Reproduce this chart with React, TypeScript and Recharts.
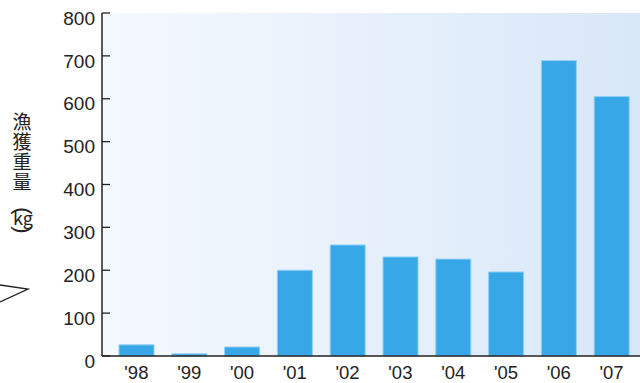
import { BarChart, Bar, XAxis, YAxis, CartesianGrid } from "recharts";

const years = ["'98", "'99", "'00", "'01", "'02", "'03", "'04", "'05", "'06", "'07"];
const catchKg = [26, 5, 21, 200, 259, 231, 226, 196, 689, 605];
const yTicks = [0, 100, 200, 300, 400, 500, 600, 700, 800];
const titleChars = ["漁", "獲", "重", "量"];

const data = years.map((year, i) => ({ year, kg: catchKg[i] }));

const AXIS_X = 102;
const INK = "#222";
const FONT = "'Liberation Sans', Arial, sans-serif";
const JP_FONT = "'Noto Sans CJK JP', sans-serif";

// y ticks point into the plot, labels sit a little below the tick
function YTick(props: any) {
  const { x, y, payload } = props;
  return (
    <g>
      <line x1={AXIS_X} x2={AXIS_X + 8} y1={y} y2={y} stroke={INK} strokeWidth={1.3} />
      <text
        x={x}
        y={y + 5}
        dy="0.355em"
        textAnchor="end"
        fill={INK}
        fontSize={19}
        fontFamily={FONT}
      >
        {payload.value}
      </text>
    </g>
  );
}

// vertical axis title: one glyph per row, parens turned sideways around "kg"
function AxisTitle() {
  const cx = 22;
  return (
    <svg width={50} height={383} style={{ position: "absolute", left: 0, top: 0 }}>
      {titleChars.map((ch, i) => (
        <text
          key={ch}
          x={cx}
          y={120 + i * 20}
          textAnchor="middle"
          dominantBaseline="central"
          fontSize={19}
          fontFamily={JP_FONT}
          fill={INK}
        >
          {ch}
        </text>
      ))}
      <text
        x={cx}
        y={211}
        dy="0.26em"
        textAnchor="middle"
        fontSize={22}
        fontFamily={FONT}
        fill={INK}
        transform={`rotate(90 ${cx} 211)`}
      >
        (
      </text>
      <text x={cx + 1} y={225} textAnchor="middle" fontSize={18} fontFamily={JP_FONT} fill={INK}>
        kg
      </text>
      <text
        x={cx}
        y={230}
        dy="0.26em"
        textAnchor="middle"
        fontSize={22}
        fontFamily={FONT}
        fill={INK}
        transform={`rotate(90 ${cx} 230)`}
      >
        )
      </text>
      <polyline points="0,285 28,289 0,302" fill="none" stroke={INK} strokeWidth={1.3} />
    </svg>
  );
}

export default function App() {
  return (
    <div style={{ position: "absolute", left: 0, top: 0, width: 640, height: 383, background: "#fff" }}>
      <BarChart
        width={640}
        height={383}
        data={data}
        margin={{ top: 13, right: 0, bottom: 0, left: 0 }}
      >
        <defs>
          <linearGradient id="plotBg" x1="0" y1="0" x2="1" y2="0">
            <stop offset="0%" stopColor="#f5f9fe" />
            <stop offset="100%" stopColor="#d8e7f8" />
          </linearGradient>
        </defs>
        <CartesianGrid horizontal={false} vertical={false} fill="url(#plotBg)" stroke="none" />
        <XAxis
          dataKey="year"
          height={27}
          padding={{ left: 8, right: 2 }}
          tickLine={false}
          tickMargin={4}
          interval={0}
          axisLine={{ stroke: INK, strokeWidth: 1.5 }}
          tick={{ fill: INK, fontSize: 18.5, fontFamily: FONT }}
        />
        <YAxis
          width={AXIS_X}
          domain={[0, 800]}
          ticks={yTicks}
          interval={0}
          tickLine={false}
          tickSize={0}
          tickMargin={7}
          axisLine={{ stroke: INK, strokeWidth: 1.5 }}
          tick={<YTick />}
        />
        <Bar
          dataKey="kg"
          fill="#38a7e7"
          stroke="#8fd0f4"
          strokeWidth={1}
          barSize={35}
          isAnimationActive={false}
        />
      </BarChart>
      <AxisTitle />
    </div>
  );
}
